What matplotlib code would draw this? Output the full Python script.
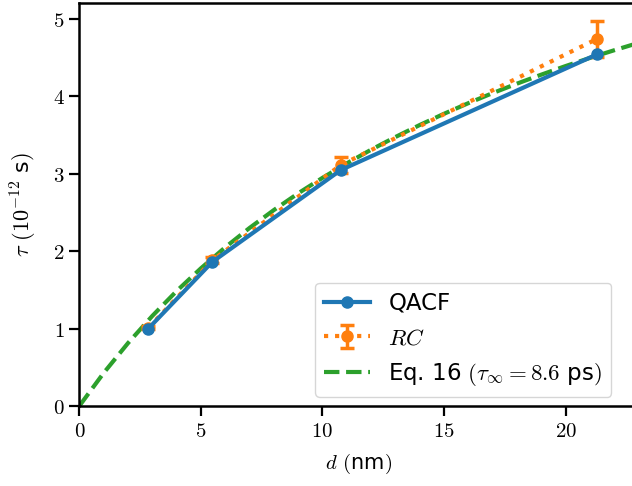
import matplotlib
matplotlib.use('Agg')
import matplotlib.pyplot as plt
from matplotlib.ticker import FuncFormatter

plt.rcParams['mathtext.fontset'] = 'cm'
plt.rcParams['font.family'] = 'DejaVu Sans'

# data
d_qacf = [2.84, 5.47, 10.75, 21.3]
tau_qacf = [1.00, 1.86, 3.045, 4.54]

d_rc = [2.84, 5.47, 10.75, 21.3]
tau_rc = [1.01, 1.88, 3.11, 4.74]
err_rc = [0.02, 0.04, 0.10, 0.23]

# Eq. 16 curve
d_eq = [0, 1, 2, 3, 4, 5, 6, 7, 8, 9, 10, 11, 12, 13, 14, 15, 16, 17, 18, 19, 20, 21, 22, 23]
tau_eq = [0.0, 0.426, 0.811, 1.162, 1.483, 1.777, 2.048, 2.298, 2.529, 2.745,
          2.945, 3.132, 3.308, 3.472, 3.627, 3.772, 3.909, 4.039, 4.161, 4.277,
          4.388, 4.493, 4.592, 4.687]

fig = plt.figure(figsize=(6.32, 4.86), dpi=100)
ax = fig.add_axes([0.1255, 0.1646, 0.885, 0.829])

h1, = ax.plot(d_qacf, tau_qacf, '-o', color='#1f77b4', lw=3, ms=8, label='QACF', zorder=3)
h2 = ax.errorbar(d_rc, tau_rc, yerr=err_rc, fmt=':o', color='#ff7f0e', lw=3, ms=8,
                 elinewidth=2.5, capsize=5, capthick=2.5, label='$RC$', zorder=2)
h3, = ax.plot(d_eq, tau_eq, '--', color='#2ca02c', lw=3,
              label=r'Eq. 16 $(\tau_\infty = 8.6$ ps$)$', zorder=1)

ax.set_xlim(0, 23)
ax.set_ylim(0, 5.2)
ax.set_xticks([0, 5, 10, 15, 20])
ax.set_yticks([0, 1, 2, 3, 4, 5])
fmt = FuncFormatter(lambda v, p: '$%g$' % v)
ax.xaxis.set_major_formatter(fmt)
ax.yaxis.set_major_formatter(fmt)
ax.tick_params(labelsize=15, length=7, width=1.6)
for s in ax.spines.values():
    s.set_linewidth(1.8)
ax.spines['right'].set_visible(False)

ax.set_xlabel('$d$ $($nm$)$', fontsize=15, labelpad=8)
ax.set_ylabel(r'$\tau$ $(10^{-12}$ s$)$', fontsize=16, labelpad=10)

leg = ax.legend(handles=[h1, h2, h3], loc='lower right',
                bbox_to_anchor=(0.0, 0.0, 0.9676, 1.0),
                fontsize=16.5, framealpha=0.8, handlelength=2.0,
                borderaxespad=0.4)

fig.savefig('out.png', dpi=100)
